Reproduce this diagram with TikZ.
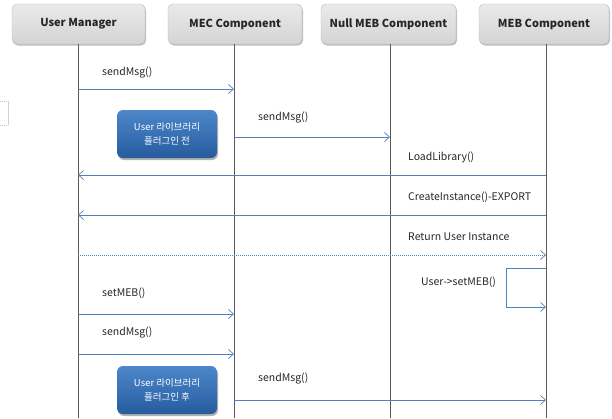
\documentclass[tikz,border=0pt]{standalone}
\usepackage{fontspec}
\setmainfont{Noto Sans CJK KR}
\usetikzlibrary{arrows.meta,shadows}
\definecolor{msgblue}{RGB}{79,129,189}
\definecolor{lifegray}{RGB}{90,90,90}
\definecolor{hdrtop}{RGB}{234,234,234}
\definecolor{hdrbot}{RGB}{212,212,212}
\definecolor{notetop}{RGB}{76,135,202}
\definecolor{notebot}{RGB}{38,92,158}
\tikzset{
  hdr/.style={rounded corners=5pt, draw=gray!55, line width=0.4pt,
    top color=hdrtop, bottom color=hdrbot, minimum height=40pt,
    font=\fontsize{11}{13}\selectfont\bfseries, text=black!85,
    drop shadow={shadow xshift=1pt, shadow yshift=-1.5pt, fill=black, opacity=0.25}},
  lifeline/.style={draw=lifegray, line width=0.8pt},
  msg/.style={draw=msgblue, line width=0.7pt, -{Straight Barb[length=5pt,width=9pt,line width=0.7pt]}},
  retmsg/.style={msg, dash pattern=on 1pt off 1pt},
  lbl/.style={anchor=west, inner sep=0pt, font=\fontsize{10.5}{12}\selectfont, text=black!85},
  note/.style={rounded corners=6pt, top color=notetop, bottom color=notebot,
    minimum width=100pt, minimum height=48pt, align=center, text=white,
    font=\fontsize{9.5}{14}\selectfont,
    drop shadow={shadow xshift=1pt, shadow yshift=-2pt, fill=black, opacity=0.3}}
}
\begin{document}
\begin{tikzpicture}[x=1pt,y=-1pt]
\useasboundingbox (0,0) rectangle (612,418);
% stray fragment at left
\draw[gray!45, dash pattern=on 1pt off 1pt, line width=0.4pt] (0,101) -- (8,101);
\draw[gray!45, dash pattern=on 1pt off 1pt, line width=0.4pt] (0,125) -- (8,125);
\draw[gray!35, line width=0.4pt] (8,101) -- (8,125);
% headers
\node[hdr, minimum width=133pt] (um) at (78.5,24) {User Manager};
\node[hdr, minimum width=134pt] (mec) at (235,24) {MEC Component};
\node[hdr, minimum width=135pt] (null) at (388.5,24) {Null MEB Component};
\node[hdr, minimum width=130pt] (meb) at (544,24) {MEB Component};
% lifeline ends
\coordinate (umT) at (78,44);  \coordinate (umB) at (78,418);
\coordinate (mecT) at (234,44); \coordinate (mecB) at (234,418);
\coordinate (nullT) at (390,44); \coordinate (nullB) at (390,418);
\coordinate (mebT) at (546,44); \coordinate (mebB) at (546,418);
\draw[lifeline] (umT) -- (umB);
\draw[lifeline] (mecT) -- (mecB);
\draw[lifeline] (nullT) -- (nullB);
\draw[lifeline] (mebT) -- (mebB);
% message endpoints
\coordinate (a1) at (78,89);   \coordinate (b1) at (234,89);
\coordinate (a2) at (234,137); \coordinate (b2) at (390,137);
\coordinate (a3) at (546,175); \coordinate (b3) at (78,175);
\coordinate (a4) at (546,215); \coordinate (b4) at (78,215);
\coordinate (a5) at (78,255);  \coordinate (b5) at (546,255);
\coordinate (s1) at (546,268); \coordinate (s2) at (506,268);
\coordinate (s3) at (506,307); \coordinate (s4) at (546,307);
\coordinate (a7) at (78,314);  \coordinate (b7) at (234,314);
\coordinate (a8) at (78,354);  \coordinate (b8) at (234,354);
\coordinate (a9) at (234,400); \coordinate (b9) at (546,400);
% messages
\draw[msg] (a1) -- (b1);
\draw[msg] (a2) -- (b2);
\draw[msg] (a3) -- (b3);
\draw[msg] (a4) -- (b4);
\draw[retmsg] (a5) -- (b5);
\draw[msg] (s1) -- (s2) -- (s3) -- (s4);
\draw[msg] (a7) -- (b7);
\draw[msg] (a8) -- (b8);
\draw[msg] (a9) -- (b9);
% labels
\node[lbl] (l1) at (102,73) {sendMsg()};
\node[lbl] (l2) at (258,118) {sendMsg()};
\node[lbl] (l3) at (408,157) {LoadLibrary()};
\node[lbl] (l4) at (408,197) {CreateInstance()-EXPORT};
\node[lbl] (l5) at (408,237) {Return User Instance};
\node[lbl] (l6) at (421,282) {User->setMEB()};
\node[lbl] (l7) at (102,293) {setMEB()};
\node[lbl] (l8) at (102,333) {sendMsg()};
\node[lbl] (l9) at (258,379) {sendMsg()};
% notes
\node[note] (n1) at (167,134) {User 라이브러리\\플러그인 전};
\node[note] (n2) at (167,390) {User 라이브러리\\플러그인 후};
\end{tikzpicture}
\end{document}
